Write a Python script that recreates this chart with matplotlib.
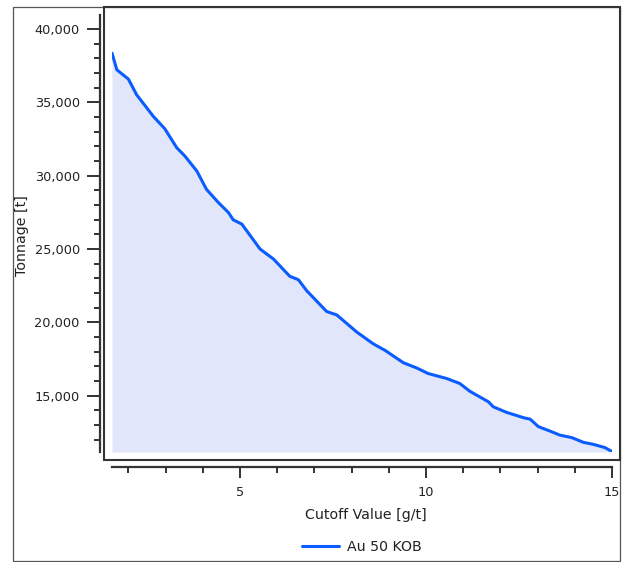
import matplotlib.pyplot as plt
from matplotlib.patches import Rectangle
from matplotlib.ticker import MultipleLocator, FuncFormatter

# 读取的数据点 (Cutoff Value [g/t], Tonnage [t])
cutoff = [1.56, 1.69, 2.00, 2.22, 2.67, 2.98, 3.30, 3.52, 3.84, 4.10, 4.42, 4.69,
          4.82, 5.05, 5.54, 5.90, 6.34, 6.57, 6.79, 7.33, 7.60, 8.14, 8.58, 8.90,
          9.39, 9.75, 10.06, 10.56, 10.91, 11.18, 11.68, 11.81, 12.17, 12.62, 12.80,
          13.02, 13.33, 13.60, 13.92, 14.23, 14.50, 14.81, 15.00]
tonnage = [38350, 37215, 36580, 35520, 34040, 33190, 31900, 31330, 30310, 29060, 28160, 27480,
           26980, 26690, 24990, 24310, 23130, 22900, 22160, 20730, 20500, 19330, 18530, 18080,
           17240, 16880, 16500, 16160, 15820, 15290, 14570, 14230, 13850, 13490, 13390,
           12880, 12580, 12300, 12130, 11810, 11670, 11450, 11180]
series_name = 'Au 50 KOB'

W, H = 626, 562
fig = plt.figure(figsize=(W / 100, H / 100), dpi=100)
plt.rcParams['font.family'] = 'DejaVu Sans'


def fx(px):
    return px / W


def fy(py):
    return 1 - py / H


# 数据区域
ax = fig.add_axes([fx(112), fy(452), fx(612) - fx(112), fy(15) - fy(452)])
ymin, ymax = 11150, 40950
ax.fill_between(cutoff, tonnage, ymin, color='#e1e6fa', lw=0)
ax.plot(cutoff, tonnage, color='#0a5cff', lw=2.2, solid_joinstyle='round', solid_capstyle='round')
ax.set_xlim(cutoff[0], 15)
ax.set_ylim(ymin, ymax)

for s in ['top', 'right']:
    ax.spines[s].set_visible(False)
ax.spines['left'].set_position(('outward', 12 * 0.72))
ax.spines['bottom'].set_position(('outward', 15 * 0.72))
for s in ['left', 'bottom']:
    ax.spines[s].set_linewidth(1.6)
    ax.spines[s].set_color('#333333')

ax.yaxis.set_major_locator(MultipleLocator(5000))
ax.yaxis.set_minor_locator(MultipleLocator(1000))
ax.xaxis.set_major_locator(MultipleLocator(5))
ax.xaxis.set_minor_locator(MultipleLocator(1))
ax.yaxis.set_major_formatter(FuncFormatter(lambda v, p: f'{int(v):,}'))
ax.tick_params(axis='y', which='major', length=9.5, width=1.4, color='#333333', pad=5,
               labelsize=9.3, labelcolor='#222222')
ax.tick_params(axis='y', which='minor', length=4.5, width=1.4, color='#333333')
ax.tick_params(axis='x', which='major', length=8, width=1.4, color='#333333', pad=5.5,
               labelsize=9.3, labelcolor='#222222')
ax.tick_params(axis='x', which='minor', length=4, width=1.4, color='#333333')

# 轴标签
fig.text(fx(366), fy(515), 'Cutoff Value [g/t]', ha='center', va='center', fontsize=10.2, color='#222222')
fig.text(fx(22), fy(236), 'Tonnage [t]', ha='center', va='center', rotation=90, fontsize=10.2, color='#222222')

# 图例
fig.legend(ax.lines, [series_name], loc='center', bbox_to_anchor=(fx(362), fy(547)), frameon=False,
           fontsize=10.2, handlelength=2.6, handletextpad=0.55, labelcolor='#222222')

# 外框
fig.patches.append(Rectangle((fx(13), fy(561)), fx(620) - fx(13), fy(7) - fy(561), transform=fig.transFigure,
                             fill=False, lw=0.9, edgecolor='#555555'))
fig.patches.append(Rectangle((fx(104), fy(460)), fx(620) - fx(104), fy(7) - fy(460), transform=fig.transFigure,
                             fill=False, lw=1.5, edgecolor='#333333'))

plt.savefig('out.png', dpi=100)
